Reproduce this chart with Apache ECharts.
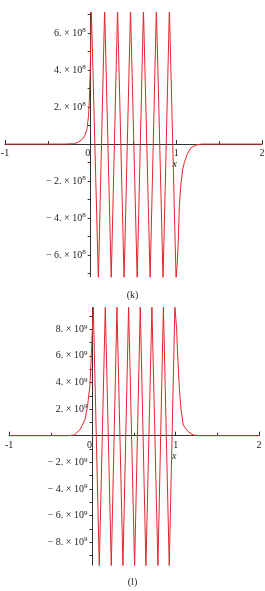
<!DOCTYPE html>
<html><head><meta charset="utf-8">
<script src="https://cdn.jsdelivr.net/npm/echarts@6/dist/echarts.min.js"></script>
<style>html,body{margin:0;padding:0;background:#fff}#c{width:265px;height:591px}</style>
</head><body><div id="c"></div>
<script>
// ---- data ----
const kX = [-1, -0.3, -0.2, -0.15, -0.1, -0.07, -0.045, -0.025, -0.015, -0.005,
  0.008, 0.09, 0.163, 0.24, 0.314, 0.39, 0.465, 0.543, 0.616, 0.694, 0.767, 0.845, 0.919, 0.997,
  1.01, 1.023, 1.035, 1.045, 1.055, 1.073, 1.093, 1.131, 1.17, 1.23, 1.3, 2];
const kY = [0, 0, 0.02e8, 0.08e8, 0.25e8, 0.45e8, 0.76e8, 1.5e8, 2.4e8, 4e8,
  7.3e8, -7.3e8, 7.3e8, -7.3e8, 7.3e8, -7.3e8, 7.3e8, -7.3e8, 7.3e8, -7.3e8, 7.3e8, -7.3e8, 7.3e8, -7.3e8,
  -6.5e8, -5.2e8, -3.4e8, -2.7e8, -2.1e8, -1.4e8, -1.0e8, -0.5e8, -0.2e8, -0.05e8, 0, 0];
const lX = [-1, -0.3, -0.22, -0.15, -0.09, -0.06, -0.03, -0.015,
  0.01, 0.082, 0.154, 0.226, 0.294, 0.366, 0.434, 0.506, 0.574, 0.642, 0.714, 0.786, 0.852, 0.922, 0.99,
  1.01, 1.02, 1.035, 1.05, 1.065, 1.09, 1.15, 1.21, 1.3, 2];
const lY = [0, 0, 0.05e9, 0.45e9, 1.2e9, 2.2e9, 3.8e9, 5.8e9,
  9.7e9, -9.8e9, 9.7e9, -9.8e9, 9.7e9, -9.8e9, 9.7e9, -9.8e9, 9.7e9, -9.8e9, 9.7e9, -9.8e9, 9.7e9, -9.8e9, 9.7e9,
  8.1e9, 6.5e9, 4.5e9, 3.0e9, 1.9e9, 0.8e9, 0.3e9, 0.05e9, 0, 0];
const xTicks = [-1, 0, 1, 2];
const kMajor = [-6e8, -4e8, -2e8, 2e8, 4e8, 6e8];
const kMinor = [-7e8, -5e8, -3e8, -1e8, 1e8, 3e8, 5e8, 7e8];
const lMajor = [-8e9, -6e9, -4e9, -2e9, 2e9, 4e9, 6e9, 8e9];
const lMinor = [-9e9, -7e9, -5e9, -3e9, -1e9, 1e9, 3e9, 5e9, 7e9, 9e9];
const kRange = [-7.17e8, 7.1e8];
const lRange = [-9.72e9, 9.62e9];
const captions = ['(k)', '(l)'];

// ---- styling / layout ----
const W = 265, H = 591;
const grids = [
  {left: 5, right: 3, top: 12.7, bottom: 314.3},
  {left: 9.2, right: 6, top: 307.7, bottom: 26}
];
const FONT = '"Liberation Serif", "DejaVu Serif", serif';
const AX = '#333';
const RED = '#e0262c';

function yFmt(v) {
  const a = Math.abs(v);
  const e = Math.floor(Math.log10(a) + 1e-9);
  const m = Math.round(a / Math.pow(10, e));
  return '{a|' + (v < 0 ? '\u2212 ' : '') + m + '. \u00d7 10}{s|' + e + '}';
}
function xFmt(v) {
  if (v === 0) return '{z|0}';
  if (v === 1) return '{n|1}\n{i|x}';
  return '{n|' + v + '}';
}
const yRich = {
  a: {fontFamily: FONT, fontSize: 10, color: '#222', lineHeight: 12},
  s: {fontFamily: FONT, fontSize: 7, color: '#222', verticalAlign: 'top', lineHeight: 12}
};
const xRich = {
  n: {fontFamily: FONT, fontSize: 10, color: '#222', lineHeight: 11},
  z: {fontFamily: FONT, fontSize: 10, color: '#222', lineHeight: 11, padding: [0, 6, 0, 0]},
  i: {fontFamily: FONT, fontSize: 10, fontStyle: 'italic', color: '#222', lineHeight: 11, padding: [0, 3, 0, 0]}
};

function xAxisFor(gi, off) {
  return {
    gridIndex: gi, type: 'value', min: -1, max: 2, interval: 1, position: 'bottom', offset: off,
    axisLine: {onZero: false, lineStyle: {color: AX, width: 1}},
    axisTick: {inside: true, length: 4, lineStyle: {color: AX}},
    minorTick: {show: true, splitNumber: 2, length: 3, lineStyle: {color: AX}},
    splitLine: {show: false}, minorSplitLine: {show: false},
    axisLabel: {margin: 4, formatter: xFmt, rich: xRich, customValues: xTicks}
  };
}
function yAxisFor(gi, off, range, major, minor) {
  return {
    gridIndex: gi, type: 'value', min: range[0], max: range[1], position: 'left', offset: off,
    axisLine: {onZero: false, lineStyle: {color: AX, width: 1}},
    axisTick: {length: 3, customValues: major.concat(minor), lineStyle: {color: AX}},
    splitLine: {show: false},
    axisLabel: {margin: 5, customValues: major, formatter: yFmt, rich: yRich}
  };
}
const zip = (xs, ys) => xs.map((x, i) => [x, ys[i]]);

const chart = echarts.init(document.getElementById('c'), null, {renderer: 'canvas'});
function build(offs) {
  return {
    animation: false,
    backgroundColor: '#fff',
    title: [
      {text: captions[0], left: 'center', top: 285, textStyle: {fontFamily: FONT, fontSize: 10, fontWeight: 'normal', color: '#222'}},
      {text: captions[1], left: 'center', top: 572, textStyle: {fontFamily: FONT, fontSize: 10, fontWeight: 'normal', color: '#222'}}
    ],
    grid: grids.map(g => Object.assign({containLabel: false, outerBoundsMode: 'none'}, g)),
    xAxis: [xAxisFor(0, offs[0].x), xAxisFor(1, offs[1].x)],
    yAxis: [yAxisFor(0, offs[0].y, kRange, kMajor, kMinor), yAxisFor(1, offs[1].y, lRange, lMajor, lMinor)],
    series: [
      {type: 'line', xAxisIndex: 0, yAxisIndex: 0, data: zip(kX, kY), showSymbol: false, clip: true,
        lineStyle: {color: RED, width: 1}},
      {type: 'line', xAxisIndex: 1, yAxisIndex: 1, data: zip(lX, lY), showSymbol: false, clip: true,
        lineStyle: {color: RED, width: 1}}
    ]
  };
}
chart.setOption(build([{x: 0, y: 0}, {x: 0, y: 0}]));
// move each axis to the data origin (0,0) using the library's own scales
const offs = grids.map((g, i) => {
  const p = chart.convertToPixel({gridIndex: i}, [0, 0]);
  return {y: -(p[0] - g.left), x: p[1] - (H - g.bottom)};
});
chart.setOption(build(offs));
</script></body></html>
